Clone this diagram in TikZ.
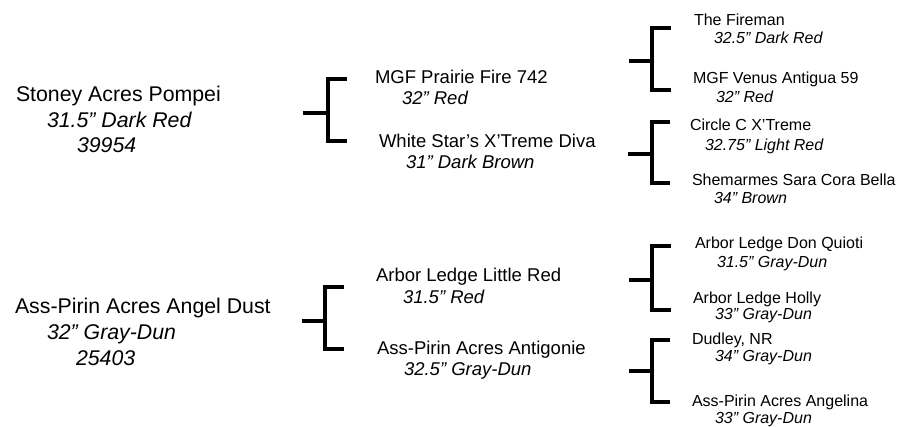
\documentclass[tikz,border=0pt]{standalone}
\usepackage{fontspec}
\setmainfont{Liberation Sans}
\begin{document}
\begin{tikzpicture}[x=1bp,y=-1bp,
  every node/.style={anchor=base west,inner sep=0pt,outer sep=0pt},
  bigname/.style={font=\fontsize{21.3bp}{24bp}\selectfont},
  bigsub/.style={font=\fontsize{21.3bp}{24bp}\selectfont\itshape},
  midname/.style={font=\fontsize{18.5bp}{21bp}\selectfont},
  midsub/.style={font=\fontsize{18.5bp}{21bp}\selectfont\itshape},
  smallname/.style={font=\fontsize{16bp}{19bp}\selectfont},
  smallsub/.style={font=\fontsize{16bp}{19bp}\selectfont\itshape},
  bracket/.style={draw=black,line width=4.5bp,line join=miter,line cap=butt}]
\useasboundingbox (0,0) rectangle (899,426);
% column 1
\node[bigname] (a1) at (16,101) {Stoney Acres Pompei};
\node[bigsub] (a1c) at (47,127) {31.5” Dark Red};
\node[bigsub] (a1r) at (77,152) {39954};
\node[bigname] (a2) at (15,313) {Ass-Pirin Acres Angel Dust};
\node[bigsub] (a2c) at (47,339) {32” Gray-Dun};
\node[bigsub] (a2r) at (76,365) {25403};
% column 2
\node[midname] (b1) at (375,83) {MGF Prairie Fire 742};
\node[midsub] (b1c) at (402,104) {32” Red};
\node[midname] (b2) at (379,147) {White Star’s X’Treme Diva};
\node[midsub] (b2c) at (406,168) {31” Dark Brown};
\node[midname] (b3) at (376,281) {Arbor Ledge Little Red};
\node[midsub] (b3c) at (403,303) {31.5” Red};
\node[midname] (b4) at (377,354) {Ass-Pirin Acres Antigonie};
\node[midsub] (b4c) at (404,375) {32.5” Gray-Dun};
% column 3
\node[smallname] (c1) at (694,25) {The Fireman};
\node[smallsub] (c1c) at (714,43) {32.5” Dark Red};
\node[smallname] (c2) at (693,83) {MGF Venus Antigua 59};
\node[smallsub] (c2c) at (716,102) {32” Red};
\node[smallname] (c3) at (690,130) {Circle C X’Treme};
\node[smallsub] (c3c) at (705,150) {32.75” Light Red};
\node[smallname] (c4) at (692,185) {Shemarmes Sara Cora Bella};
\node[smallsub] (c4c) at (714,203) {34” Brown};
\node[smallname] (c5) at (695,248) {Arbor Ledge Don Quioti};
\node[smallsub] (c5c) at (717,267) {31.5” Gray-Dun};
\node[smallname] (c6) at (693,303) {Arbor Ledge Holly};
\node[smallsub] (c6c) at (715,319) {33” Gray-Dun};
\node[smallname] (c7) at (692,344) {Dudley, NR};
\node[smallsub] (c7c) at (715,361) {34” Gray-Dun};
\node[smallname] (c8) at (692,406) {Ass-Pirin Acres Angelina};
\node[smallsub] (c8c) at (715,423) {33” Gray-Dun};
% brackets
\draw[bracket] (347,79) -- (328,79) -- (328,141) -- (347,141);
\draw[bracket] (303,113) -- (328,113);
\draw[bracket] (344,287) -- (325,287) -- (325,349) -- (344,349);
\draw[bracket] (302,321) -- (325,321);
\draw[bracket] (671,28) -- (652,28) -- (652,90) -- (671,90);
\draw[bracket] (629,61) -- (652,61);
\draw[bracket] (670,122) -- (652,122) -- (652,183) -- (670,183);
\draw[bracket] (628,154) -- (652,154);
\draw[bracket] (671,246) -- (652,246) -- (652,310) -- (671,310);
\draw[bracket] (629,280) -- (652,280);
\draw[bracket] (670,340) -- (652,340) -- (652,402) -- (670,402);
\draw[bracket] (629,371) -- (652,371);
\end{tikzpicture}
\end{document}
